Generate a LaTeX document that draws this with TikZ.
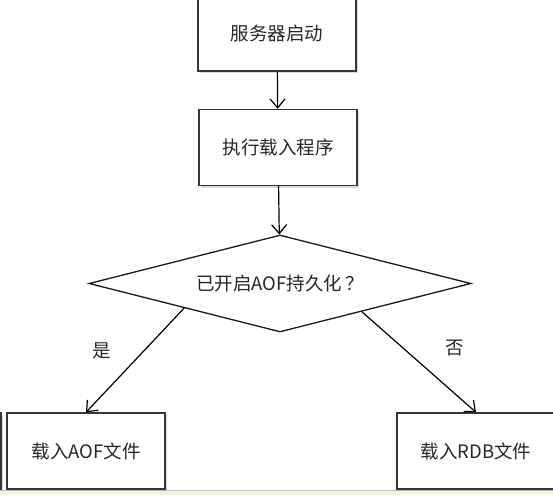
\documentclass[tikz,border=0pt]{standalone}
\usepackage{fontspec}
\newfontfamily\cjk{Noto Sans CJK SC}
\usetikzlibrary{shapes.geometric}
\usetikzlibrary{arrows.meta}
\usetikzlibrary{shadows}
\definecolor{boxline}{RGB}{55,55,55}
\definecolor{strip}{RGB}{242,242,226}

\tikzset{
  flowbox/.style={draw=boxline,line width=1.4pt,fill=white,minimum width=158pt,minimum height=76pt,
    drop shadow={shadow xshift=2pt,shadow yshift=-2pt,fill=black!30,opacity=0.5},
    font=\cjk\fontsize{18.5}{20}\selectfont,text=black!85},
  decision/.style={diamond,aspect=4,draw=black!90,line width=1.3pt,fill=white,inner sep=0pt,
    minimum width=382pt,minimum height=97pt,font=\cjk\fontsize{18.5}{20}\selectfont,text=black!85},
  flowlabel/.style={font=\cjk\fontsize{18.5}{20}\selectfont,text=black!85},
}

\begin{document}
\begin{tikzpicture}[>={Straight Barb[length=9pt,width=15pt]},x=1pt,y=-1pt]
\useasboundingbox (0,0) rectangle (553,495);
% bottom strip
\fill[strip] (0,490) rectangle (553,495);
\draw[black!25,line width=1pt] (0,490) -- (553,490);
% boxes
\node[flowbox] (start) at (277,33) {服务器启动};
\node[flowbox] (load) at (278,147.5) {执行载入程序};
\node[decision] (isaof) at (280,283.5) {已开启AOF持久化\,？};
\node[flowbox] (other) at (-78,451) {};
\node[flowbox] (aof) at (86,451) {载入AOF文件};
\node[flowbox] (rdb) at (476,451) {载入RDB文件};
% arrows
\draw[->,line width=1.2pt] (start) -- (load);
\draw[->,line width=1.2pt] (load) -- (isaof);
\draw[->,line width=1.2pt] (isaof.south west) -- (aof.north);
\draw[->,line width=1.2pt] (isaof.-19) -- (rdb.north);
\node[flowlabel] (yes) at (102,351) {是};
\node[flowlabel] (no) at (455,348) {否};
\end{tikzpicture}
\end{document}
